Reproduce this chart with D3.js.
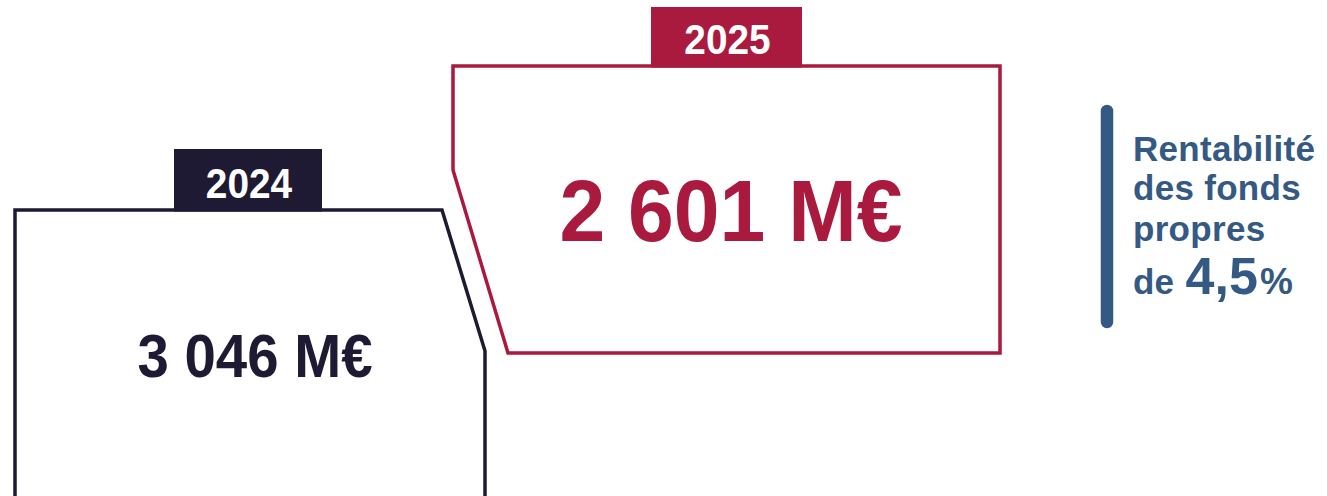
<!DOCTYPE html>
<html>
<head>
<meta charset="utf-8">
<script src="https://cdn.jsdelivr.net/npm/d3@7"></script>
<style>
  html, body { margin: 0; padding: 0; background: #ffffff; }
  svg { display: block; }
  text { font-family: "Liberation Sans", Arial, sans-serif; font-weight: bold; }
</style>
</head>
<body>
<svg id="chart" width="1327" height="496"></svg>
<script>
// ---- data ----
const years = ["2024", "2025"];
const values = [3046, 2601];
const unit = "M€";
const roeLines = ["Rentabilité", "des fonds", "propres"];
const roePrefix = "de ";
const roeValue = 4.5;
const roeUnit = "%";

// ---- style / layout ----
const colors = { "2024": "#1f1a33", "2025": "#a91a3e" };
const roeColor = "#345a83";

const fr = d3.formatLocale({ decimal: ",", thousands: " ", grouping: [3], currency: ["", "€"] });
const fmtVal = fr.format(",d");
const fmtPct = fr.format(",.1f");

const svg = d3.select("#chart");

const x = d3.scaleOrdinal().domain(years).range([15, 453]);
const boxRight = d3.scaleOrdinal().domain(years).range([485, 1000]);
const boxTop = d3.scaleOrdinal().domain(years).range([210, 66]);

const shapes = {
  "2024": (l, r, t) => {
    const chamferX = r - 43, chamferY = t + 141;
    return `M${l},${t + 300}L${l},${t}L${chamferX},${t}L${r},${chamferY}L${r},${t + 300}`;
  },
  "2025": (l, r, t) => {
    const b = t + 287;
    return `M${l},${t}L${r},${t}L${r},${b}L${l + 55},${b}L${l},${t + 104}Z`;
  }
};
const tabs = {
  "2024": { x0: 174, x1: 322, h: 61 },
  "2025": { x0: 651, x1: 802, h: 59 }
};
const numberStyle = {
  "2024": { size: 61, sx: 0.925, cx: 255, baselineOff: 167 },
  "2025": { size: 88, sx: 0.935, cx: 731, baselineOff: 175 }
};

const groups = svg.selectAll("g.year")
  .data(years.map((y, i) => ({ year: y, value: values[i] })))
  .join("g").attr("class", "year");

groups.append("path")
  .attr("d", d => shapes[d.year](x(d.year), boxRight(d.year), boxTop(d.year)))
  .attr("fill", "none")
  .attr("stroke", d => colors[d.year])
  .attr("stroke-width", 3.5)
  .attr("stroke-linejoin", "miter");

groups.append("rect")
  .attr("x", d => tabs[d.year].x0)
  .attr("y", d => boxTop(d.year) - tabs[d.year].h)
  .attr("width", d => tabs[d.year].x1 - tabs[d.year].x0)
  .attr("height", d => tabs[d.year].h + 1.5)
  .attr("fill", d => colors[d.year]);

groups.append("text")
  .attr("transform", d => `translate(${(tabs[d.year].x0 + tabs[d.year].x1) / 2 + 1},${boxTop(d.year) - 12}) scale(0.97,1.05)`)
  .attr("text-anchor", "middle")
  .attr("fill", "#ffffff")
  .attr("font-size", 40)
  .text(d => d.year);

groups.append("text")
  .attr("transform", d => `translate(${numberStyle[d.year].cx},${boxTop(d.year) + numberStyle[d.year].baselineOff}) scale(${numberStyle[d.year].sx},1)`)
  .attr("text-anchor", "middle")
  .attr("fill", d => colors[d.year])
  .attr("font-size", d => numberStyle[d.year].size)
  .text(d => fmtVal(d.value) + " " + unit);

// ---- ROE block ----
const roe = svg.append("g");
roe.append("line")
  .attr("x1", 1107).attr("x2", 1107)
  .attr("y1", 111).attr("y2", 322)
  .attr("stroke", roeColor)
  .attr("stroke-width", 12.5)
  .attr("stroke-linecap", "round");

const baselines = [161, 200, 241];
roe.selectAll("text.l")
  .data(roeLines)
  .join("text").attr("class", "l")
  .attr("x", 1133)
  .attr("y", (d, i) => baselines[i])
  .attr("fill", roeColor)
  .attr("font-size", 35)
  .attr("letter-spacing", 0.3)
  .text(d => d);

const last = roe.append("text")
  .attr("x", 1133)
  .attr("y", 294)
  .attr("fill", roeColor);
last.append("tspan").attr("font-size", 35).text(roePrefix);
last.append("tspan").attr("font-size", 52).attr("dx", 2).text(fmtPct(roeValue));
last.append("tspan").attr("font-size", 37).attr("dx", 2).text(roeUnit);
</script>
</body>
</html>
